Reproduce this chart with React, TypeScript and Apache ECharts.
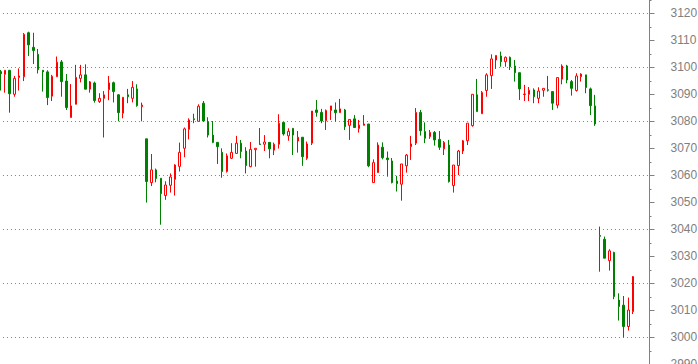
import React, { useEffect, useRef } from "react";
import * as echarts from "echarts";

// OHLC values (price units)
const opens = [
  3098.4, 3097.4, 3098.9, 3090.0, 3096.2, 3096.5, 3112.8, 3107.4, 3104.8, 3098.9,
  3098.3, 3089.3, 3096.5, 3102.0, 3094.9, 3081.4, 3086.3, 3095.9, 3097.2, 3091.9,
  3094.2, 3087.3, 3088.5, 3091.7, 3094.3, 3089.8, 3083.0, 3089.8, 3088.5, 3092.0,
  3085.4, 3073.5, 3057.3, 3062.0, 3058.9, 3052.5, 3056.3, 3058.5, 3063.3, 3070.0,
  3077.0, 3080.9, 3080.0, 3086.7, 3079.9, 3074.9, 3072.2, 3068.5, 3061.4, 3066.3,
  3068.1, 3071.9, 3069.0, 3063.2, 3069.5, 3071.6, 3071.5, 3072.2, 3069.3, 3071.5,
  3079.6, 3074.6, 3077.4, 3072.7, 3074.1, 3066.3, 3071.9, 3084.2, 3083.3, 3080.2,
  3084.0, 3084.2, 3083.2, 3084.2, 3078.5, 3080.9, 3077.3, 3078.5, 3079.0, 3057.3,
  3061.0, 3070.4, 3066.4, 3065.3, 3057.9, 3056.7, 3063.5, 3070.6, 3071.9, 3083.3,
  3076.2, 3074.3, 3075.9, 3073.3, 3069.8, 3071.2, 3056.2, 3063.6, 3069.0, 3072.8,
  3078.4, 3089.8, 3082.8, 3091.4, 3096.9, 3102.7, 3104.2, 3102.1, 3103.7, 3100.5,
  3098.0, 3089.9, 3090.0, 3091.6, 3088.5, 3091.5, 3091.7, 3091.0, 3086.0, 3095.6,
  3100.5, 3094.7, 3091.4, 3096.5, 3097.2, 3092.0, 3085.7, 3037.7, 3036.3, 3028.4,
  3031.4, 3013.8, 3011.9, 3004.0, 3009.5,
];
const closes = [
  3097.6, 3098.9, 3090.2, 3095.9, 3096.8, 3112.2, 3108.3, 3106.2, 3099.1, 3098.3,
  3088.8, 3096.7, 3101.9, 3094.7, 3085.1, 3085.7, 3096.3, 3097.2, 3091.9, 3094.6,
  3087.7, 3088.5, 3089.8, 3094.2, 3091.0, 3083.2, 3088.9, 3089.1, 3092.6, 3085.8,
  3086.0, 3057.7, 3062.0, 3058.8, 3053.2, 3056.4, 3059.4, 3063.8, 3068.5, 3077.2,
  3080.5, 3080.6, 3085.6, 3080.1, 3074.9, 3072.2, 3070.6, 3061.4, 3067.2, 3068.5,
  3071.9, 3068.8, 3063.6, 3069.6, 3070.0, 3071.4, 3072.3, 3069.8, 3071.5, 3079.3,
  3075.3, 3076.3, 3074.9, 3074.1, 3066.9, 3071.6, 3083.8, 3083.3, 3080.1, 3084.0,
  3085.7, 3083.2, 3084.6, 3078.0, 3080.7, 3077.7, 3078.6, 3079.0, 3063.5, 3064.7,
  3071.2, 3066.5, 3065.8, 3057.3, 3056.9, 3064.2, 3067.5, 3071.6, 3083.3, 3076.5,
  3073.7, 3075.9, 3073.1, 3070.4, 3072.2, 3057.7, 3063.8, 3069.0, 3072.8, 3079.3,
  3090.0, 3083.6, 3090.7, 3097.2, 3103.1, 3104.4, 3102.1, 3103.7, 3100.2, 3098.0,
  3092.0, 3090.1, 3091.5, 3089.1, 3091.2, 3092.2, 3091.5, 3086.7, 3096.2, 3100.5,
  3095.3, 3092.2, 3096.8, 3097.5, 3092.5, 3085.8, 3079.0, 3037.4, 3029.3, 3032.0,
  3015.1, 3011.4, 3004.0, 3010.1, 3022.5,
];
const lows = [
  3091.4, 3090.6, 3083.2, 3089.1, 3091.4, 3094.9, 3104.2, 3101.2, 3097.7, 3091.0,
  3086.0, 3087.5, 3096.5, 3089.1, 3084.2, 3081.4, 3086.3, 3094.4, 3091.9, 3090.6,
  3086.9, 3086.8, 3074.0, 3087.8, 3087.0, 3080.0, 3081.1, 3086.7, 3087.0, 3085.4,
  3080.0, 3049.9, 3056.0, 3057.4, 3041.7, 3050.9, 3053.6, 3052.5, 3061.4, 3066.7,
  3073.3, 3079.3, 3080.0, 3079.9, 3074.0, 3071.9, 3064.2, 3059.1, 3061.0, 3066.0,
  3068.1, 3066.3, 3060.7, 3063.0, 3063.2, 3071.4, 3069.0, 3066.3, 3067.5, 3069.9,
  3074.7, 3072.8, 3067.5, 3068.4, 3063.5, 3065.7, 3071.2, 3081.7, 3079.3, 3076.8,
  3080.5, 3079.9, 3083.2, 3076.8, 3073.1, 3077.7, 3075.8, 3078.5, 3063.0, 3057.3,
  3061.0, 3065.9, 3059.5, 3057.0, 3054.0, 3050.6, 3061.0, 3065.7, 3071.2, 3074.7,
  3071.9, 3073.5, 3071.0, 3069.4, 3067.5, 3057.3, 3053.6, 3060.1, 3067.9, 3071.2,
  3078.0, 3083.6, 3082.8, 3089.1, 3092.0, 3099.4, 3100.2, 3100.2, 3099.0, 3094.7,
  3087.9, 3087.5, 3087.5, 3086.7, 3086.7, 3089.1, 3091.0, 3084.2, 3084.8, 3093.7,
  3094.1, 3089.5, 3091.0, 3094.7, 3090.4, 3082.3, 3078.3, 3024.3, 3029.3, 3024.7,
  3014.1, 3006.2, 3000.0, 3002.5, 3008.6,
];
const highs = [
  3099.0, 3098.9, 3098.9, 3096.8, 3099.6, 3112.7, 3113.2, 3112.8, 3106.8, 3098.9,
  3098.9, 3097.2, 3104.0, 3102.7, 3097.5, 3093.8, 3100.9, 3100.9, 3101.1, 3094.9,
  3094.7, 3090.4, 3091.2, 3096.8, 3094.7, 3090.1, 3088.9, 3092.0, 3094.9, 3093.7,
  3086.9, 3073.5, 3067.9, 3062.5, 3058.9, 3057.8, 3060.7, 3064.1, 3072.1, 3077.7,
  3081.1, 3082.8, 3086.3, 3087.5, 3081.5, 3080.1, 3072.2, 3070.0, 3068.1, 3071.9,
  3074.6, 3073.1, 3070.4, 3072.3, 3070.0, 3077.5, 3074.9, 3072.2, 3072.1, 3082.6,
  3079.6, 3077.4, 3077.4, 3076.4, 3074.1, 3072.5, 3083.8, 3087.9, 3084.6, 3084.4,
  3085.7, 3087.0, 3088.3, 3084.6, 3080.7, 3082.3, 3080.5, 3082.3, 3079.0, 3065.9,
  3072.2, 3072.2, 3068.8, 3066.4, 3059.8, 3064.2, 3067.9, 3074.6, 3084.9, 3084.2,
  3079.6, 3076.8, 3076.4, 3076.4, 3072.7, 3073.1, 3063.8, 3069.4, 3073.1, 3079.3,
  3090.0, 3095.7, 3091.2, 3097.8, 3104.8, 3104.4, 3105.8, 3104.0, 3104.0, 3102.7,
  3098.0, 3093.5, 3092.7, 3092.2, 3092.6, 3092.2, 3096.8, 3091.0, 3096.2, 3101.1,
  3100.9, 3095.3, 3097.8, 3097.8, 3097.2, 3092.5, 3089.8, 3041.0, 3037.3, 3032.6,
  3031.7, 3016.3, 3015.3, 3014.7, 3022.7,
];
const categories = opens.map((_, i) => String(i + 1));
const emptySlots = ["", "", ""];

// Axis scale
const yMin = 2980;
const yMax = 3140;
const topLabel = 3120;
const labelStep = 10;
const gridStep = 20;

const GRAY = "#808080";
const UP = "#ff0000";
const DOWN = "#008000";

export default function App() {
  const ref = useRef<HTMLDivElement>(null);

  useEffect(() => {
    document.body.style.margin = "0";
    if (!ref.current) return;
    const chart = echarts.init(ref.current, undefined, { renderer: "svg" });
    const data = categories.map((_, i) => [opens[i], closes[i], lows[i], highs[i]]);
    chart.setOption({
      animation: false,
      backgroundColor: "#ffffff",
      grid: {
        left: -2.06,
        width: 651.56,
        top: -40.7,
        height: 432,
        containLabel: false,
        outerBoundsMode: "none",
      },
      xAxis: {
        type: "category",
        data: [...categories, ...emptySlots],
        boundaryGap: true,
        axisLine: { show: false },
        axisTick: { show: false },
        axisLabel: { show: false },
        splitLine: { show: false },
      },
      yAxis: [
        {
          type: "value",
          position: "right",
          min: yMin,
          max: yMax,
          interval: labelStep,
          axisLine: { show: true, lineStyle: { color: GRAY, width: 1 } },
          axisTick: { show: true, length: 5, lineStyle: { color: GRAY } },
          minorTick: { show: true, splitNumber: 2, length: 2, lineStyle: { color: GRAY } },
          axisLabel: {
            color: GRAY,
            fontSize: 12,
            fontFamily: "Liberation Sans, Arial, sans-serif",
            margin: 21,
            formatter: (v: number) => (v > topLabel ? "" : String(v)),
          },
          splitLine: { show: false },
          minorSplitLine: { show: false },
        },
        {
          type: "value",
          position: "right",
          min: yMin,
          max: yMax,
          interval: gridStep,
          axisLine: { show: false },
          axisTick: { show: false },
          axisLabel: { show: false },
          splitLine: {
            show: true,
            lineStyle: { color: GRAY, width: 1, type: [1, 3], dashOffset: 3 },
          },
        },
      ],
      series: [
        {
          type: "candlestick",
          yAxisIndex: 0,
          data,
          barWidth: 2,
          itemStyle: {
            color: "#ffffff",
            color0: DOWN,
            borderColor: UP,
            borderColor0: DOWN,
            borderWidth: 1,
          },
        },
      ],
    });
    return () => chart.dispose();
  }, []);

  return <div ref={ref} style={{ width: 698, height: 364, overflow: "hidden" }} />;
}
